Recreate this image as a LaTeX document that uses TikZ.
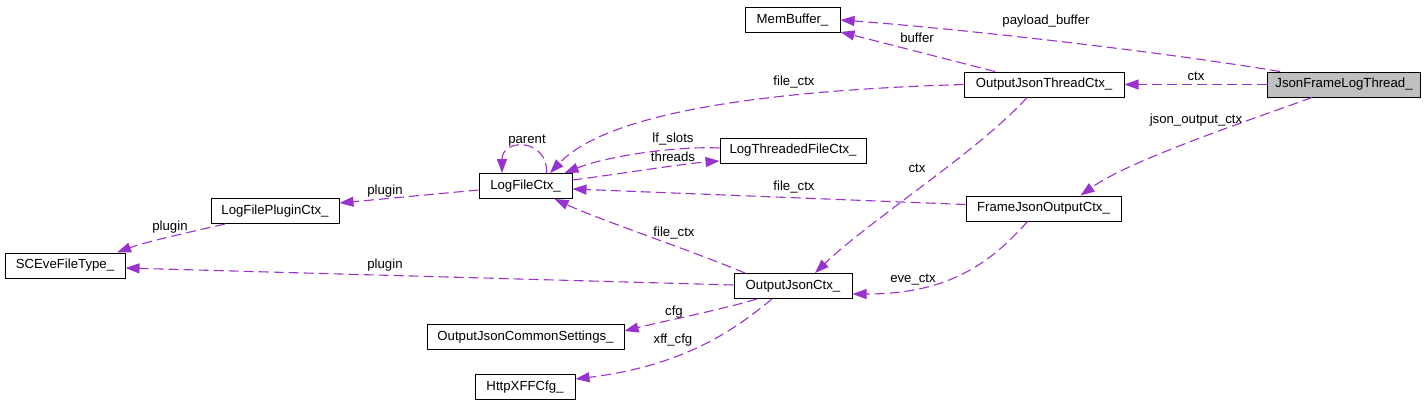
\documentclass[tikz,border=0pt]{standalone}
\usepackage{fontspec}
\setmainfont{Liberation Sans}
\usetikzlibrary{arrows.meta}
\definecolor{edgec}{HTML}{9A32CD}
\definecolor{focusfill}{HTML}{BFBFBF}
\tikzset{
  box/.style={draw=black, line width=1pt, fill=white, inner sep=0pt, minimum height=25pt, font=\fontsize{13.2}{15}\selectfont},
  lbl/.style={inner sep=0pt, font=\fontsize{13.2}{15}\selectfont},
  rel/.style={draw=edgec, line width=1.1pt, dash pattern=on 10pt off 5pt, -{Triangle[length=14pt,width=10pt]}},
}
\begin{document}
\begin{tikzpicture}[x=1pt,y=-1pt]
\useasboundingbox (0,0) rectangle (1428,407);
% nodes
\node[box, minimum width=95pt] (mem) at (792.5,20) {MemBuffer\_};
\node[box, minimum width=153pt, fill=focusfill] (jflt) at (1344,84.5) {JsonFrameLogThread\_};
\node[box, minimum width=160pt] (ojtc) at (1044,84.5) {OutputJsonThreadCtx\_};
\node[box, minimum width=146pt] (ltfc) at (793,150.5) {LogThreadedFileCtx\_};
\node[box, minimum width=93pt] (lfc) at (525.5,186) {LogFileCtx\_};
\node[box, minimum width=155pt] (fjoc) at (1043.5,208.5) {FrameJsonOutputCtx\_};
\node[box, minimum width=128pt] (lfpc) at (275,211) {LogFilePluginCtx\_};
\node[box, minimum width=120pt] (sce) at (65,265.5) {SCEveFileType\_};
\node[box, minimum width=118pt] (ojc) at (793,286) {OutputJsonCtx\_};
\node[box, minimum width=197pt] (ojcs) at (525.5,337) {OutputJsonCommonSettings\_};
\node[box, minimum width=100pt] (xff) at (525,387) {HttpXFFCfg\_};
% edges (yshift is in page direction: positive = up)
\draw[rel] ([xshift=-64pt]jflt.north) .. controls (1150,50) and (950,28) .. ([yshift=0pt]mem.east);
\draw[rel] ([xshift=-49pt]ojtc.north) .. controls (950,60) and (880,42) .. ([xshift=0pt,yshift=1pt]mem.south east);
\draw[rel] (jflt.west) -- (ojtc.east);
\draw[rel] (ojtc.west) .. controls (780,90) and (610,110) .. ([xshift=24.5pt]lfc.north);
\draw[rel] ([xshift=21pt]lfc.north) .. controls (548,138) and (502,138) .. ([xshift=-23.5pt]lfc.north);
\draw[rel] ([yshift=2.5pt]ltfc.west) .. controls (680,146) and (610,155) .. ([xshift=39pt]lfc.north);
\draw[rel] ([yshift=-7pt]lfc.north east) .. controls (620,174) and (680,164) .. ([yshift=-10.5pt]ltfc.west);
\draw[rel] ([yshift=4pt]fjoc.west) -- ([yshift=-3pt]lfc.east);
\draw[rel] ([yshift=-4pt]lfc.west) -- ([yshift=8pt]lfpc.east);
\draw[rel] ([xshift=-50pt]lfpc.south) .. controls (190,232) and (145,242) .. ([xshift=52pt]sce.north);
\draw[rel] ([yshift=1pt]ojc.west) -- ([yshift=-2.5pt]sce.east);
\draw[rel] ([xshift=-48pt]ojc.north) .. controls (690,250) and (600,220) .. ([xshift=29pt]lfc.south);
\draw[rel] ([xshift=-17pt]ojtc.south) .. controls (980,150) and (870,220) .. ([xshift=22pt]ojc.north);
\draw[rel] ([xshift=-32pt]jflt.south) .. controls (1250,120) and (1130,160) .. ([xshift=37pt]fjoc.north);
\draw[rel] ([xshift=-16pt]fjoc.south) .. controls (985,270) and (940,294) .. ([yshift=-8pt]ojc.east);
\draw[rel] ([xshift=-36pt]ojc.south) .. controls (720,310) and (660,322) .. ([yshift=6pt]ojcs.east);
\draw[rel] ([xshift=-21pt]ojc.south) .. controls (740,325) and (690,365) .. ([yshift=8pt]xff.east);
% labels
\node[lbl] (l1) at (1046,21) {payload\_buffer};
\node[lbl] (l2) at (917,38) {buffer};
\node[lbl] (l3) at (1196,76) {ctx};
\node[lbl] (l4) at (794,82) {file\_ctx};
\node[lbl] (l5) at (527,141) {parent};
\node[lbl] (l6) at (673,139) {lf\_slots};
\node[lbl] (l7) at (673,157) {threads};
\node[lbl] (l8) at (794,187) {file\_ctx};
\node[lbl] (l9) at (385,191) {plugin};
\node[lbl] (l10) at (170,227) {plugin};
\node[lbl] (l11) at (385,265) {plugin};
\node[lbl] (l12) at (674,233) {file\_ctx};
\node[lbl] (l13) at (917,168) {ctx};
\node[lbl] (l14) at (1196,120) {json\_output\_ctx};
\node[lbl] (l15) at (913,280) {eve\_ctx};
\node[lbl] (l16) at (674,312) {cfg};
\node[lbl] (l17) at (673,340) {xff\_cfg};
\end{tikzpicture}
\end{document}
